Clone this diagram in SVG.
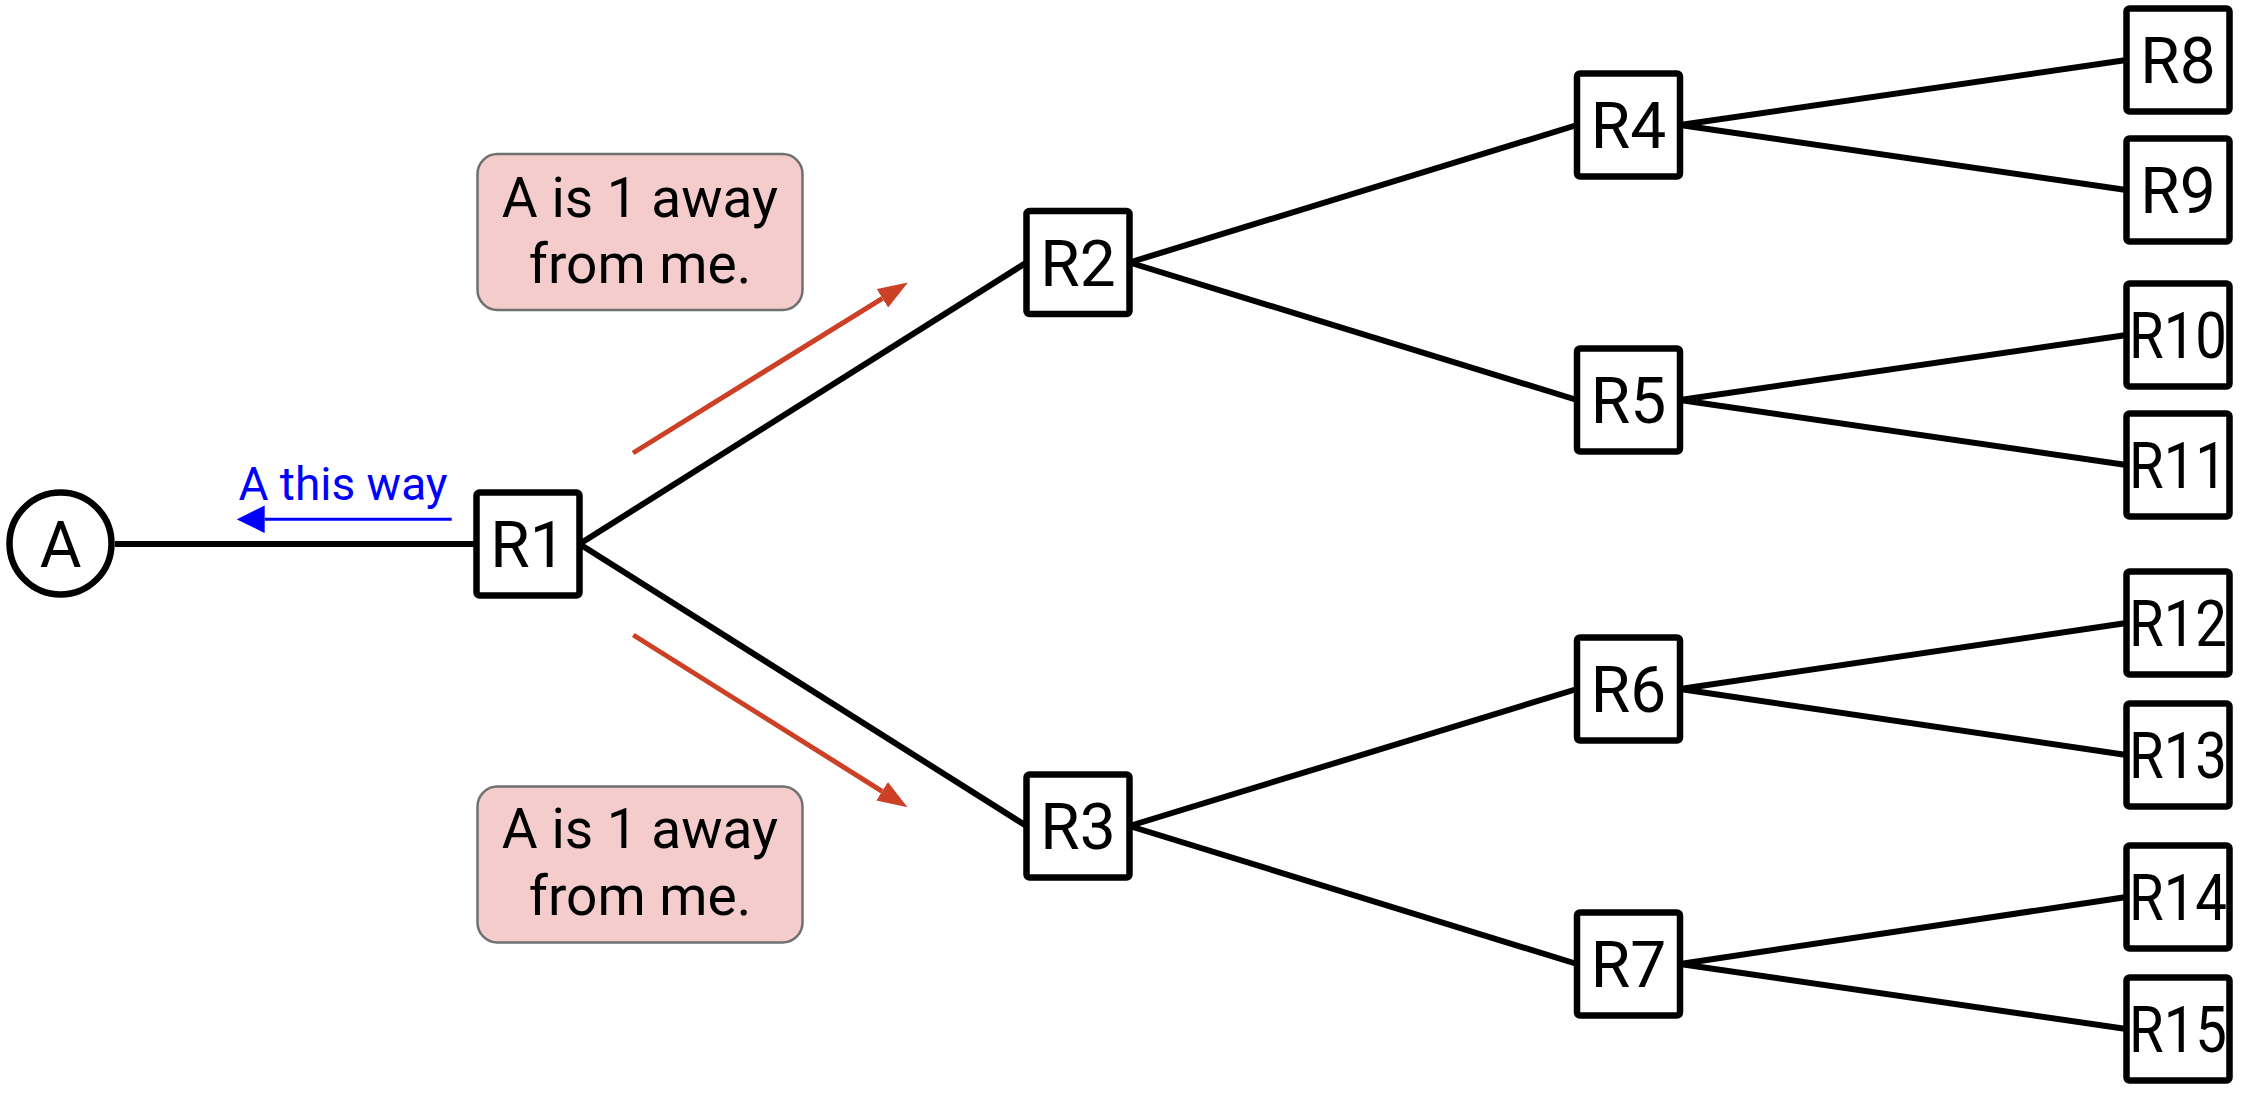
<svg xmlns="http://www.w3.org/2000/svg" width="2259" height="1095" viewBox="0 0 2259 1095">
<style>
  .box { fill: #ffffff; stroke: #000000; stroke-width: 6.5; }
  .lbl { font-family: Roboto, "Liberation Sans", sans-serif; font-size: 64px; fill: #000000; text-anchor: middle; }
  .edge { stroke: #000000; stroke-width: 6; fill: none; }
  .note { fill: #f4cccc; stroke: #707070; stroke-width: 2.5; }
  .notetxt { font-family: Roboto, "Liberation Sans", sans-serif; font-size: 55px; fill: #000000; text-anchor: middle; }
  .red { stroke: #cc4125; stroke-width: 5; fill: none; }
  .blue { stroke: #0000ff; stroke-width: 3; fill: none; }
</style>
<defs>
  <marker id="redhead" markerUnits="userSpaceOnUse" markerWidth="30" markerHeight="22" viewBox="0 0 29 21" refX="0" refY="10.5" orient="auto">
    <path d="M0,0 L29,10.5 L0,21 z" fill="#cc4125"/>
  </marker>
  <marker id="bluehead" markerUnits="userSpaceOnUse" markerWidth="28" markerHeight="28" viewBox="0 0 27 26.6" refX="0" refY="13.3" orient="auto">
    <path d="M0,0 L27,13.3 L0,26.6 z" fill="#0000ff"/>
  </marker>
</defs>
<rect width="2259" height="1095" fill="#ffffff"/>

<g id="connectors">
  <line class="edge" x1="115" y1="544" x2="476.5" y2="544"/>
  <line class="edge" x1="579.5" y1="544" x2="1026.5" y2="262.5"/>
  <line class="edge" x1="579.5" y1="544" x2="1026.5" y2="826"/>
  <line class="edge" x1="1129.5" y1="262.5" x2="1577" y2="125"/>
  <line class="edge" x1="1129.5" y1="262.5" x2="1577" y2="400"/>
  <line class="edge" x1="1129.5" y1="826" x2="1577" y2="689"/>
  <line class="edge" x1="1129.5" y1="826" x2="1577" y2="964"/>
  <line class="edge" x1="1680" y1="125" x2="2126.5" y2="60"/>
  <line class="edge" x1="1680" y1="125" x2="2126.5" y2="190"/>
  <line class="edge" x1="1680" y1="400" x2="2126.5" y2="335"/>
  <line class="edge" x1="1680" y1="400" x2="2126.5" y2="465"/>
  <line class="edge" x1="1680" y1="689" x2="2126.5" y2="623"/>
  <line class="edge" x1="1680" y1="689" x2="2126.5" y2="755"/>
  <line class="edge" x1="1680" y1="964" x2="2126.5" y2="897"/>
  <line class="edge" x1="1680" y1="964" x2="2126.5" y2="1029"/>
  <line class="red" x1="633" y1="453" x2="882.4" y2="298.3" marker-end="url(#redhead)"/>
  <line class="red" x1="633.3" y1="635" x2="882.1" y2="791.3" marker-end="url(#redhead)"/>
  <line class="blue" x1="451.7" y1="519.3" x2="264.7" y2="519.3" marker-end="url(#bluehead)"/>
</g>

<g id="label-a-this-way">
  <text x="343" y="500" font-family="Roboto, 'Liberation Sans', sans-serif" font-size="46" fill="#0000ff" text-anchor="middle">A this way</text>
</g>

<g id="note-top">
  <rect class="note" x="477.5" y="154" width="325" height="156" rx="20"/>
  <text class="notetxt" x="640" y="216.7">A is 1 away</text>
  <text class="notetxt" x="640" y="283">from me.</text>
</g>
<g id="note-bottom">
  <rect class="note" x="477.5" y="786.5" width="325" height="156" rx="20"/>
  <text class="notetxt" x="640" y="848.3">A is 1 away</text>
  <text class="notetxt" x="640" y="915">from me.</text>
</g>

<g id="node-A">
  <circle cx="60.5" cy="543.5" r="51" fill="#ffffff" stroke="#000000" stroke-width="6.5"/>
  <text class="lbl" x="60.5" y="566.5">A</text>
</g>
<g id="node-R1"><rect class="box" x="476.5" y="492.5" width="103" height="103" rx="3"/><text class="lbl" x="528" y="567">R1</text></g>
<g id="node-R2"><rect class="box" x="1026.5" y="211" width="103" height="103" rx="3"/><text class="lbl" x="1078" y="285.5">R2</text></g>
<g id="node-R3"><rect class="box" x="1026.5" y="774.5" width="103" height="103" rx="3"/><text class="lbl" x="1078" y="849">R3</text></g>
<g id="node-R4"><rect class="box" x="1577" y="73.5" width="103" height="103" rx="3"/><text class="lbl" x="1628.5" y="148">R4</text></g>
<g id="node-R5"><rect class="box" x="1577" y="348.5" width="103" height="103" rx="3"/><text class="lbl" x="1628.5" y="423">R5</text></g>
<g id="node-R6"><rect class="box" x="1577" y="637.5" width="103" height="103" rx="3"/><text class="lbl" x="1628.5" y="712">R6</text></g>
<g id="node-R7"><rect class="box" x="1577" y="912.5" width="103" height="103" rx="3"/><text class="lbl" x="1628.5" y="987">R7</text></g>
<g id="node-R8"><rect class="box" x="2126.5" y="8.5" width="103" height="103" rx="3"/><text class="lbl" x="2178" y="83">R8</text></g>
<g id="node-R9"><rect class="box" x="2126.5" y="138.5" width="103" height="103" rx="3"/><text class="lbl" x="2178" y="213">R9</text></g>
<g id="node-R10"><rect class="box" x="2126.5" y="283.5" width="103" height="103" rx="3"/><text class="lbl" x="2178" y="358" textLength="98" lengthAdjust="spacingAndGlyphs">R10</text></g>
<g id="node-R11"><rect class="box" x="2126.5" y="413.5" width="103" height="103" rx="3"/><text class="lbl" x="2178" y="488" textLength="98" lengthAdjust="spacingAndGlyphs">R11</text></g>
<g id="node-R12"><rect class="box" x="2126.5" y="571.5" width="103" height="103" rx="3"/><text class="lbl" x="2178" y="646" textLength="98" lengthAdjust="spacingAndGlyphs">R12</text></g>
<g id="node-R13"><rect class="box" x="2126.5" y="703.5" width="103" height="103" rx="3"/><text class="lbl" x="2178" y="778" textLength="98" lengthAdjust="spacingAndGlyphs">R13</text></g>
<g id="node-R14"><rect class="box" x="2126.5" y="845.5" width="103" height="103" rx="3"/><text class="lbl" x="2178" y="920" textLength="98" lengthAdjust="spacingAndGlyphs">R14</text></g>
<g id="node-R15"><rect class="box" x="2126.5" y="977.5" width="103" height="103" rx="3"/><text class="lbl" x="2178" y="1052" textLength="98" lengthAdjust="spacingAndGlyphs">R15</text></g>
</svg>
